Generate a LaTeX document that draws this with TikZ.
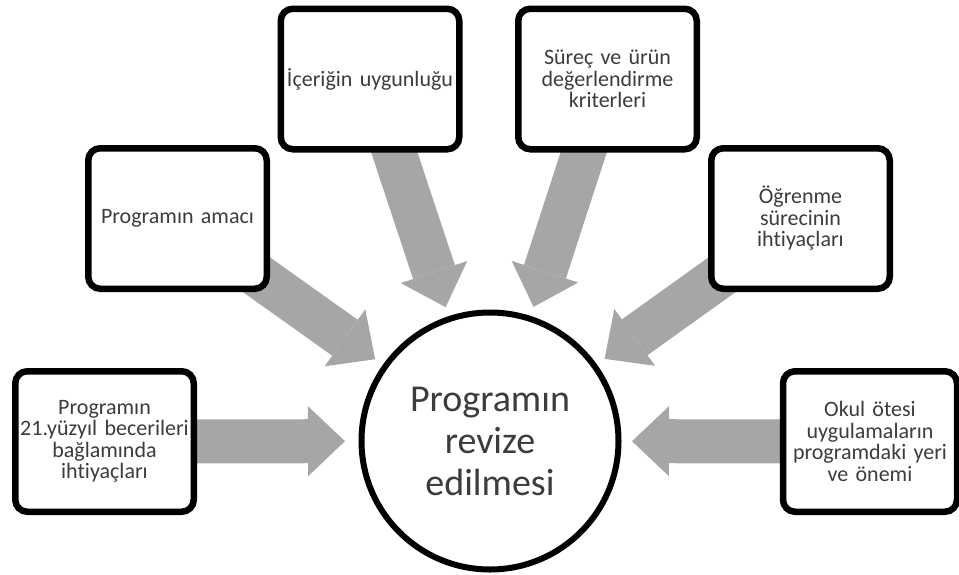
\documentclass[tikz,border=0pt]{standalone}
\usepackage{fontspec}
\setmainfont{Carlito}[Ligatures={NoCommon}, WordSpace=0.8, RawFeature={-liga;-clig;-calt}]
\usetikzlibrary{arrows.meta,backgrounds}
\definecolor{arrgray}{RGB}{166,166,166}
\definecolor{txtgray}{RGB}{60,60,60}
\begin{document}
\begin{tikzpicture}[x=1pt,y=-1pt,
  box/.style={draw=black, line width=6.5pt, rounded corners=12pt, fill=white,
    minimum width=178.5pt, minimum height=140.5pt, inner sep=0pt,
    text width=174pt, align=center, font=\fontsize{22}{21.5}\selectfont, text=txtgray},
  hub/.style={circle, draw=black, line width=6pt, fill=white, minimum size=257pt,
    inner sep=0pt, align=center, font=\fontsize{38}{42}\selectfont, text=txtgray},
  flow/.style={draw=arrgray, line width=44pt, shorten >=141pt,
    -{Triangle[width=70pt,length=37pt,line width=0pt]}}
]
\useasboundingbox (0,0) rectangle (959,574);

\node[hub] (c) at (490,441) {Programın\\revize\\edilmesi};

\node[box] (b1) at (104.5,441.5) {Programın\\21.yüzyıl becerileri\\bağlamında\\ihtiyaçları};
\node[box] (b2) at (177.5,218.5) {Programın amacı};
\node[box] (b3) at (370,79) {İçeriğin uygunluğu};
\node[box] (b4) at (607.5,79) {Süreç ve ürün\\değerlendirme\\kriterleri};
\node[box] (b5) at (800.5,218.5) {Öğrenme\\sürecinin\\ihtiyaçları};
\node[box, minimum width=170pt] (b6) at (870,441.5) {Okul ötesi\\uygulamaların\\programdaki yeri\\ve önemi};

\begin{scope}[on background layer]
  \draw[flow, shorten >=145pt] (b1.center) -- (c.center);
  \draw[flow] (b2.center) -- (c.center);
  \draw[flow] (b3.center) -- (c.center);
  \draw[flow] (b4.center) -- (c.center);
  \draw[flow] (b5.center) -- (c.center);
  \draw[flow, shorten >=142pt] (b6.center) -- (c.center);
\end{scope}
\end{tikzpicture}
\end{document}
